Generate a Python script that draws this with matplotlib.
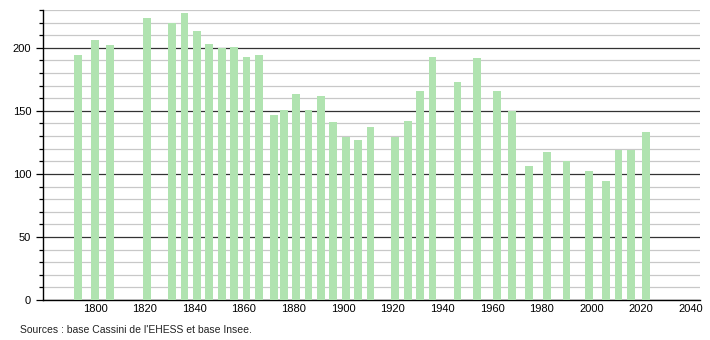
import matplotlib
matplotlib.use("Agg")
import matplotlib.pyplot as plt
from matplotlib.ticker import MultipleLocator

plt.rcParams['font.family'] = ['Liberation Sans', 'DejaVu Sans']

# population census
years = [1793, 1800, 1806, 1821, 1831, 1836, 1841, 1846, 1851, 1856, 1861, 1866,
         1872, 1876, 1881, 1886, 1891, 1896, 1901, 1906, 1911, 1921, 1926, 1931,
         1936, 1946, 1954, 1962, 1968, 1975, 1982, 1990, 1999, 2006, 2011, 2016, 2022]
population = [194, 206, 202, 224, 220, 228, 213, 203, 200, 201, 193, 194,
              147, 151, 163, 151, 162, 141, 129, 127, 137, 129, 142, 166,
              193, 173, 192, 166, 150, 106, 117, 110, 102, 94, 119, 119, 133]
xticks = list(range(1800, 2041, 20))
source = "Sources : base Cassini de l'EHESS et base Insee."

fig = plt.figure(figsize=(7.1, 3.4), dpi=100)
ax = fig.add_axes([0.0606, 0.1176, 0.926, 0.853])

ax.set_xlim(1779, 2044)
ax.set_ylim(0, 230)

# grid lines
ax.yaxis.set_major_locator(MultipleLocator(50))
ax.yaxis.set_minor_locator(MultipleLocator(10))
ax.grid(axis='y', which='minor', color='#c8c8c8', linewidth=0.9)
ax.grid(axis='y', which='major', color='#333333', linewidth=0.9)
ax.set_axisbelow(True)

ax.bar(years, population, width=3.1, color='#b0e3b0', zorder=3)

ax.set_xticks(xticks)
ax.tick_params(axis='x', length=0, labelsize=8, pad=3)
ax.tick_params(axis='y', which='major', length=5, width=0.9, labelsize=8)
ax.tick_params(axis='y', which='minor', length=3, width=0.9)

for s in ['top', 'right']:
    ax.spines[s].set_visible(False)
ax.spines['left'].set_linewidth(1)
ax.spines['bottom'].set_linewidth(1)

fig.text(0.028, 0.022, source, fontsize=7.5, color='#222222')

fig.savefig("out.png", dpi=100)
